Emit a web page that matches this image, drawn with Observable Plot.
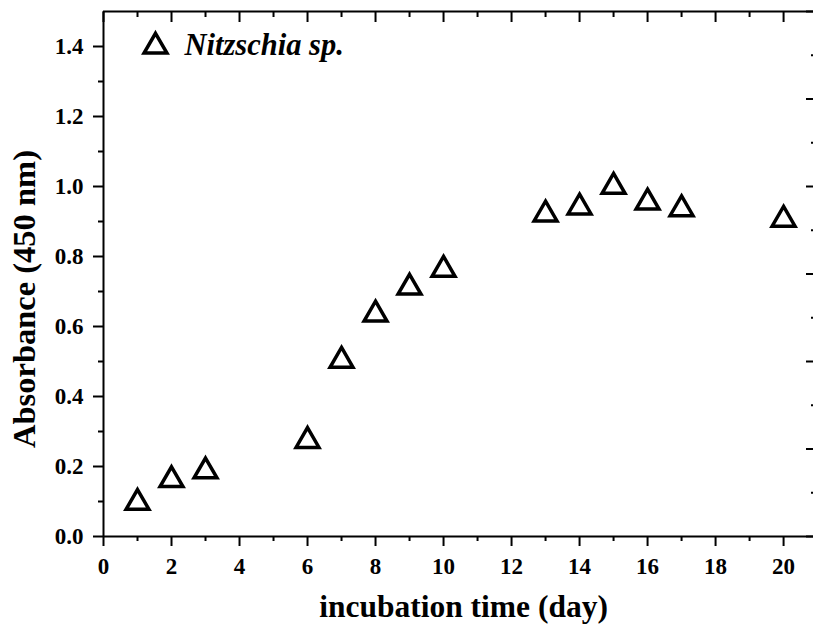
<!DOCTYPE html>
<html>
<head>
<meta charset="utf-8">
<script src="https://cdn.jsdelivr.net/npm/d3@7"></script>
<script src="https://cdn.jsdelivr.net/npm/@observablehq/plot@0.6"></script>
<style>
  html, body { margin: 0; padding: 0; background: white; overflow: hidden; }
</style>
</head>
<body>
<div id="chart"></div>
<script>
// Data
const days = [1, 2, 3, 6, 7, 8, 9, 10, 13, 14, 15, 16, 17, 20];
const absorbance = [0.105, 0.170, 0.195, 0.282, 0.511, 0.643, 0.720, 0.771, 0.929, 0.949, 1.008, 0.963, 0.944, 0.914];
const seriesName = "Nitzschia sp.";
const xTitle = "incubation time (day)";
const yTitle = "Absorbance (450 nm)";

// Axes / ticks
const xDomain = [0, 20.88];
const yDomain = [0, 1.5];
const xMajor = [0, 2, 4, 6, 8, 10, 12, 14, 16, 18, 20];
const xMinor = [1, 3, 5, 7, 9, 11, 13, 15, 17, 19];
const yMajor = [0, 0.2, 0.4, 0.6, 0.8, 1.0, 1.2, 1.4];
const yMinor = [0.1, 0.3, 0.5, 0.7, 0.9, 1.1, 1.3];
const rightMajor = [0, 0.25, 0.5, 0.75, 1.0, 1.25, 1.5];
const rightMinor = [0.125, 0.375, 0.625, 0.875, 1.125, 1.375];

const data = days.map((d, i) => ({day: d, abs: absorbance[i]}));
const font = "'Liberation Serif', 'Times New Roman', serif";
const blank = () => "";

const chart = Plot.plot({
  width: 813,
  height: 633,
  marginLeft: 103,
  marginRight: 0,
  marginTop: 11,
  marginBottom: 97,
  style: {fontFamily: font, background: "white", color: "black"},
  x: {domain: xDomain},
  y: {domain: yDomain},
  marks: [
    // frame lines (left, bottom, top)
    Plot.ruleY([yDomain[0]], {stroke: "black", strokeWidth: 2}),
    Plot.ruleY([yDomain[1]], {stroke: "black", strokeWidth: 2}),
    Plot.ruleX([xDomain[0]], {stroke: "black", strokeWidth: 2}),
    // bottom axis
    Plot.axisX({ticks: xMajor, tickSize: 10, tickPadding: 11, strokeWidth: 2, fontSize: 23, fontWeight: "bold", tickFormat: d3.format("d"), label: null}),
    Plot.axisX({ticks: xMinor, tickSize: 5, strokeWidth: 2, tickFormat: blank, label: null}),
    // top axis (inward ticks)
    Plot.axisX({anchor: "top", ticks: xMajor, tickSize: -10, strokeWidth: 2, tickFormat: blank, label: null}),
    Plot.axisX({anchor: "top", ticks: xMinor, tickSize: -5, strokeWidth: 2, tickFormat: blank, label: null}),
    // left axis
    Plot.axisY({ticks: yMajor, tickSize: 10, tickPadding: 10, strokeWidth: 2, fontSize: 23, fontWeight: "bold", tickFormat: d3.format(".1f"), label: null}),
    Plot.axisY({ticks: yMinor, tickSize: 5, strokeWidth: 2, tickFormat: blank, label: null}),
    // right axis (inward ticks)
    Plot.axisY({anchor: "right", ticks: rightMajor, tickSize: -8, strokeWidth: 2, tickFormat: blank, label: null}),
    Plot.axisY({anchor: "right", ticks: rightMinor, tickSize: -3, strokeWidth: 2, tickFormat: blank, label: null}),
    // axis titles
    Plot.text([xTitle], {text: d => d, frameAnchor: "bottom", textAnchor: "middle", dx: 5, dy: 70, lineAnchor: "middle", fontSize: 31.5, fontWeight: "bold"}),
    Plot.text([yTitle], {text: d => d, frameAnchor: "left", textAnchor: "middle", rotate: -90, dx: -79, dy: 25, lineAnchor: "middle", fontSize: 32.5, fontWeight: "bold"}),
    // data
    Plot.dot(data, {x: "day", y: "abs", symbol: "triangle", r: 8.5, stroke: "black", strokeWidth: 3.5, fill: "none", dy: 3}),
    // legend
    Plot.dot([seriesName], {frameAnchor: "top-left", dx: 52, dy: 35, symbol: "triangle", r: 8.5, stroke: "black", strokeWidth: 3.5, fill: "none"}),
    Plot.text([seriesName], {text: d => d, frameAnchor: "top-left", dx: 81, dy: 34, textAnchor: "start", lineAnchor: "middle", fontSize: 30.5, fontWeight: "bold", fontStyle: "italic"})
  ]
});
document.getElementById("chart").appendChild(chart);
</script>
</body>
</html>
